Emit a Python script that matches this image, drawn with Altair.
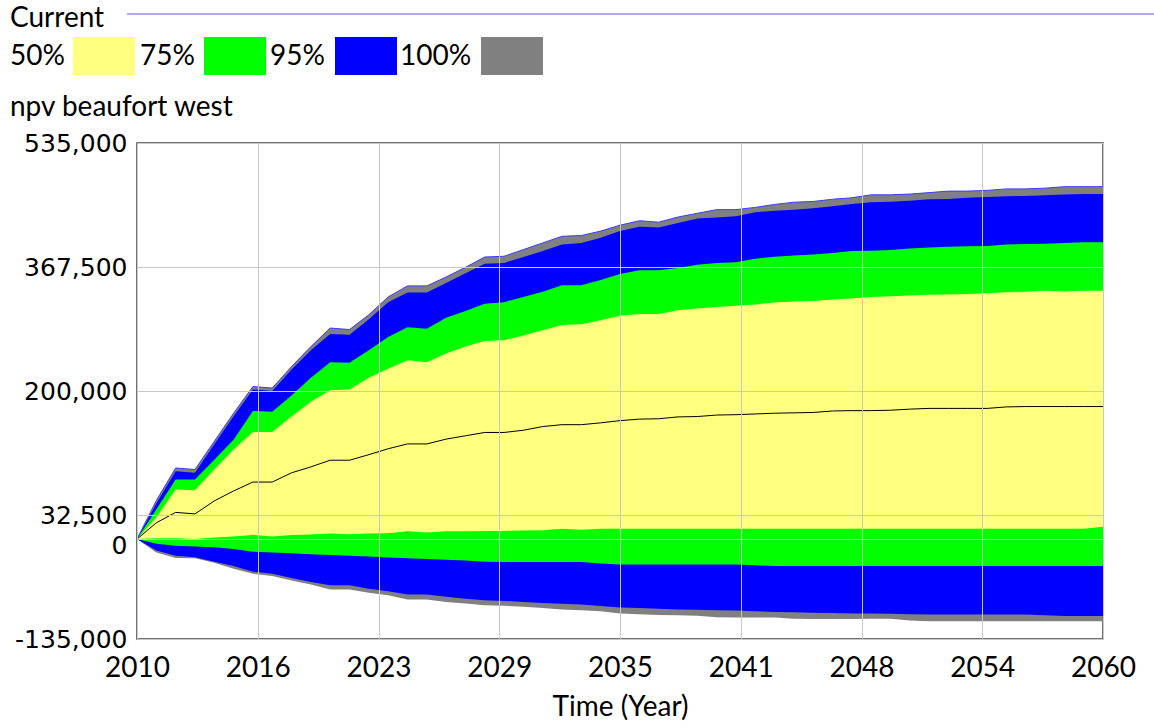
import altair as alt
import pandas as pd

# Sensitivity run "Current": npv beaufort west, yearly 2010-2060
years = list(range(2010, 2061))

max_100 = [0, 52000, 96000, 94000, 132000, 170000, 206000, 204000, 233000, 260000,
           285000, 283000, 303000, 327000, 342000, 342000, 354000, 367000, 381000, 382000,
           391000, 400000, 409000, 410000, 416000, 424000, 430000, 428000, 435000, 440000,
           445000, 445000, 448000, 452000, 455000, 456000, 459000, 461000, 465000, 465000,
           466000, 468000, 470000, 470000, 471000, 473000, 473000, 474000, 476000, 476000,
           476000]
max_95 = [0, 48000, 91500, 89500, 128000, 166000, 202000, 200000, 229000, 255000,
          277000, 276000, 297000, 320000, 333000, 333000, 346000, 359000, 372000, 373000,
          381000, 389000, 398000, 400000, 407000, 416000, 422000, 421000, 427000, 433000,
          434500, 436000, 441500, 443500, 445000, 447000, 449500, 452500, 455000, 455500,
          457000, 459000, 459500, 461000, 462000, 463000, 463500, 464500, 465500, 466000,
          466000]
max_75 = [0, 40000, 80500, 80500, 107000, 134000, 173000, 172000, 194000, 218000,
          239000, 238000, 255000, 273000, 286000, 284000, 299000, 308000, 318000, 320000,
          327000, 334000, 343000, 343000, 350000, 358000, 363000, 363000, 366000, 370500,
          373000, 374000, 378500, 381500, 383000, 384500, 386500, 389000, 389500, 390500,
          392500, 394000, 395000, 395500, 396000, 398000, 398500, 399000, 400000, 401000,
          401000]
max_50 = [0, 29000, 67000, 66000, 94000, 121000, 144500, 144500, 165500, 185500,
          201000, 202000, 218000, 230000, 241500, 239000, 250500, 260000, 267500, 268500,
          275000, 282000, 289000, 290000, 295500, 301500, 304000, 304000, 309000, 311500,
          313500, 315000, 317000, 319500, 321000, 321500, 323500, 325000, 327000, 328000,
          329000, 330000, 330500, 331000, 332000, 333500, 334000, 335500, 334500, 335500,
          335500]
median = [0, 22000, 36000, 34000, 51500, 65000, 77000, 77000, 89500, 97500,
          106500, 106500, 114000, 122000, 128500, 128500, 135000, 139500, 144000, 144000,
          147000, 152000, 154500, 154500, 157000, 160000, 162000, 162500, 165000, 165500,
          167500, 168000, 169000, 170000, 170500, 171000, 173000, 173500, 173500, 174000,
          175500, 176500, 176500, 176500, 176500, 178500, 179000, 179000, 179000, 179000,
          179000]
min_50 = [0, 1000, 1000, 0, 2000, 3500, 5500, 3500, 5500, 6000,
          7500, 6500, 7500, 8000, 10500, 9000, 10500, 10500, 11000, 11000,
          11500, 12000, 14000, 12500, 14000, 14000, 14000, 14000, 14000, 14000,
          14000, 14000, 14000, 14000, 14000, 14000, 14000, 14000, 14000, 14000,
          14000, 14000, 14000, 14000, 14000, 14000, 14000, 14000, 14000, 14000,
          16500]
min_75 = [0, -6500, -9000, -10000, -11000, -13500, -17000, -18000, -19000, -20500,
          -21500, -22500, -23500, -25000, -26000, -27000, -28000, -29000, -30500, -31000,
          -31000, -31000, -31000, -31000, -33000, -34500, -34500, -34500, -34500, -34500,
          -34500, -34500, -35500, -36500, -36500, -36500, -36500, -36500, -36500, -36500,
          -36500, -36500, -36500, -36500, -36500, -36500, -36500, -36500, -36500, -36500,
          -36500]
min_95 = [0, -15500, -22500, -24500, -30500, -36500, -44000, -47000, -52500, -58000,
          -62500, -62500, -67000, -70500, -75000, -75000, -78000, -80500, -82500, -83500,
          -85000, -86500, -87500, -88500, -90500, -92500, -93000, -94000, -95000, -95500,
          -96000, -96500, -97500, -98500, -99000, -99500, -100000, -100500, -100500, -101000,
          -101500, -102000, -102000, -102000, -102000, -102000, -102000, -103000, -104000, -104000,
          -104000]
min_100 = [0, -18000, -25500, -26000, -32000, -40000, -47000, -50000, -56000, -61500,
           -68000, -68000, -72500, -76000, -81500, -81500, -85000, -87000, -89500, -90000,
           -91500, -93000, -95000, -96000, -97500, -100500, -101500, -102500, -103000, -103500,
           -105500, -106000, -106000, -106000, -107500, -108000, -108000, -108000, -107500, -107500,
           -110000, -111000, -111000, -111000, -111000, -111000, -111000, -111000, -111000, -111000,
           -111000]

x_ticks = [2010, 2016.25, 2022.5, 2028.75, 2035, 2041.25, 2047.5, 2053.75, 2060]
y_ticks = [-135000, 0, 32500, 200000, 367500, 535000]

bands = ["50%", "75%", "95%", "100%"]
band_colors = ["#ffff80", "#00ff00", "#0000ff", "#808080"]

df = pd.DataFrame({
    "year": years,
    "max_100": max_100, "max_95": max_95, "max_75": max_75, "max_50": max_50,
    "median": median,
    "min_50": min_50, "min_75": min_75, "min_95": min_95, "min_100": min_100,
})
one = pd.DataFrame({"k": [0]})

W, H = 966, 496
LABEL_FONT = "Lato"

x_axis = alt.Axis(
    values=x_ticks, labelExpr="'' + round(datum.value)", title="Time (Year)",
    grid=True, gridColor="#c8c8c8", gridWidth=1, ticks=False, domain=False,
    labelFont=LABEL_FONT, labelFontSize=28, labelColor="black", labelPadding=15,
    labelFlush=False, labelOverlap=False,
    titleFont=LABEL_FONT, titleFontSize=28, titleFontWeight="normal",
    titleColor="black", titlePadding=11, zindex=1,
)
y_axis = alt.Axis(
    values=y_ticks,
    labelExpr="datum.value < 0 ? '-' + format(-datum.value, ',') : format(datum.value, ',')",
    title=None, grid=True, gridColor="#c8c8c8", gridWidth=1, ticks=False, domain=False,
    labelFont="DejaVu Sans", labelFontSize=25, labelColor="black", labelPadding=10,
    labelOverlap=False, labelFlush=False,
    labelOffset={"condition": {"test": "datum.value === 0", "value": 6}, "value": 0},
    zindex=1,
)

x_enc = alt.X("year:Q", scale=alt.Scale(domain=[2010, 2060], nice=False, zero=False), axis=x_axis)
y_scale = alt.Scale(domain=[-135000, 535000], nice=False, zero=False)


def band(lo, hi, color, with_axes=False):
    enc = dict(
        x=x_enc if with_axes else alt.X("year:Q"),
        y=alt.Y(f"{hi}:Q", scale=y_scale, axis=y_axis) if with_axes else alt.Y(f"{hi}:Q"),
        y2=alt.Y2(f"{lo}:Q"),
    )
    return alt.Chart(df).mark_area(color=color, opacity=1, interpolate="linear").encode(**enc)


layers = [
    band("min_100", "max_100", band_colors[3], with_axes=True),
    band("min_95", "max_95", band_colors[2]),
    band("min_75", "max_75", band_colors[1]),
    band("min_50", "max_50", band_colors[0]),
    alt.Chart(df).mark_line(color="black", strokeWidth=1).encode(x="year:Q", y="median:Q"),
    alt.Chart(df).mark_line(color="#3a3aff", strokeWidth=1).encode(x="year:Q", y="max_100:Q"),
]

# Header: run name with its line, band legend, variable name
layers.append(
    alt.Chart(one).mark_text(text="Current", align="left", baseline="middle",
                             font=LABEL_FONT, fontSize=28, color="black")
    .encode(x=alt.value(-127), y=alt.value(-124))
)
layers.append(
    alt.Chart(one).mark_rule(color="#5a5aff", strokeWidth=1.2)
    .encode(x=alt.value(-10), x2=alt.value(1017), y=alt.value(-129))
)
legend_text_x = [-127, 3, 133, 263]
legend_box_x = [-64, 67, 198, 344]
for name, col, tx, bx in zip(bands, band_colors, legend_text_x, legend_box_x):
    layers.append(
        alt.Chart(one).mark_text(text=name, align="left", baseline="middle",
                                 font=LABEL_FONT, fontSize=28, color="black")
        .encode(x=alt.value(tx), y=alt.value(-86))
    )
    layers.append(
        alt.Chart(one).mark_rect(color=col, opacity=1)
        .encode(x=alt.value(bx), x2=alt.value(bx + 62), y=alt.value(-106), y2=alt.value(-68))
    )
layers.append(
    alt.Chart(one).mark_text(text="npv beaufort west", align="left", baseline="middle",
                             font=LABEL_FONT, fontSize=28, color="black")
    .encode(x=alt.value(-127), y=alt.value(-35))
)

chart = alt.layer(*layers).properties(
    width=W, height=H,
    autosize=alt.AutoSizeParams(type="none"),
    padding={"left": 137, "top": 143, "right": 51, "bottom": 88},
    background="white",
).configure_view(stroke="#444444", strokeWidth=1.5)

chart.save("out.html", embed_options={"renderer": "svg", "actions": False})
